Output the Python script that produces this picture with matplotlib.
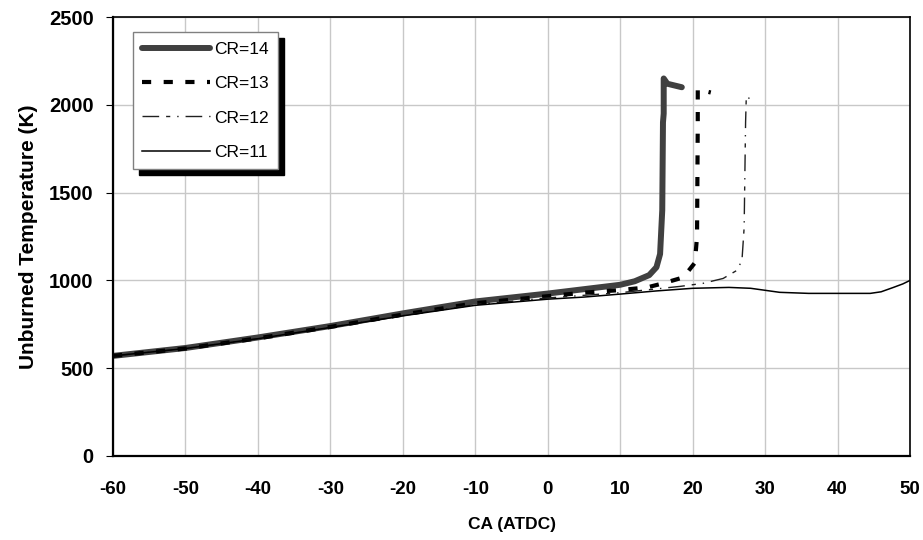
import matplotlib
matplotlib.use('Agg')
import matplotlib.pyplot as plt

plt.rcParams['font.family'] = ['Liberation Sans', 'DejaVu Sans']
plt.rcParams['axes.unicode_minus'] = False

# crank angle (deg ATDC) and unburned gas temperature (K)
ca_14 = [-60, -50, -40, -30, -20, -10, 0, 5, 10, 12, 14, 15, 15.5, 15.8, 15.9, 16.0, 16.0, 16.5, 17.5, 18.5]
t_14 = [570, 615, 675, 740, 812, 880, 925, 950, 975, 995, 1030, 1075, 1150, 1400, 1900, 1950, 2150, 2120, 2110, 2100]

ca_13 = [-60, -50, -40, -30, -20, -10, 0, 5, 10, 13.7, 15.9, 18.7, 20.3, 20.6, 20.7, 20.7, 21.5, 22.5]
t_13 = [570, 612, 670, 735, 805, 870, 910, 930, 945, 960, 983, 1017, 1100, 1250, 1900, 2090, 2080, 2070]

ca_12 = [-60, -50, -40, -30, -20, -10, 0, 5, 10, 18.3, 21.4, 24.2, 26.1, 26.8, 27.1, 27.3, 27.4, 28.0, 28.5]
t_12 = [570, 612, 668, 733, 800, 862, 900, 915, 930, 966, 983, 1011, 1057, 1114, 1300, 1900, 2050, 2030, 2010]

ca_11 = [-60, -50, -40, -30, -20, -10, 0, 5, 10, 15, 20, 25, 28, 32, 36, 40, 44.5, 46, 47.7, 49, 50]
t_11 = [570, 612, 668, 732, 798, 858, 893, 905, 922, 940, 955, 960, 955, 932, 926, 926, 926, 935, 960, 980, 1000]

x_ticks = list(range(-60, 51, 10))
y_ticks = list(range(0, 2501, 500))

fig = plt.figure(figsize=(9.23, 5.4), dpi=100)
ax = fig.add_axes([0.1224, 0.1556, 0.8636, 0.8129])

ax.plot(ca_14, t_14, color='#404040', lw=4.3, solid_capstyle='round', label='CR=14')
ax.plot(ca_13, t_13, color='black', lw=3.0, dashes=(2.2, 3), label='CR=13')
ax.plot(ca_12, t_12, color='#202020', lw=1.0, dashes=(12, 5, 3, 5, 1, 5), label='CR=12')
ax.plot(ca_11, t_11, color='black', lw=1.1, label='CR=11')

ax.set_xlim(-60, 50)
ax.set_ylim(0, 2500)
ax.set_xticks(x_ticks)
ax.set_yticks(y_ticks)
ax.grid(True, color='#c8c8c8', lw=1.0)
ax.set_axisbelow(True)
for s in ax.spines.values():
    s.set_linewidth(1.2)
    s.set_color('black')
ax.spines['left'].set_linewidth(1.6)
ax.spines['bottom'].set_linewidth(1.6)
ax.tick_params(axis='x', length=0, pad=18)
ax.tick_params(axis='y', direction='out', length=5, pad=9)
for lab in ax.get_xticklabels():
    lab.set_fontweight('bold')
    lab.set_fontsize(13.5)
for lab in ax.get_yticklabels():
    lab.set_fontweight('bold')
    lab.set_fontsize(14.5)

ax.set_xlabel('CA (ATDC)', fontsize=12.5, fontweight='bold', labelpad=14)
ax.set_ylabel('Unburned Temperature (K)', fontsize=15, fontweight='bold', labelpad=8)

leg = ax.legend(loc='upper left', bbox_to_anchor=(0.025, 0.965), fontsize=12.5,
                handlelength=3.9, handletextpad=0.2, labelspacing=1.1,
                borderpad=0.55, borderaxespad=0, fancybox=False, edgecolor='#808080',
                shadow={'ox': 4.3, 'oy': -4.3, 'color': 'black', 'alpha': 1})
leg.get_frame().set_linewidth(1.0)

fig.savefig('out.png', dpi=100)
